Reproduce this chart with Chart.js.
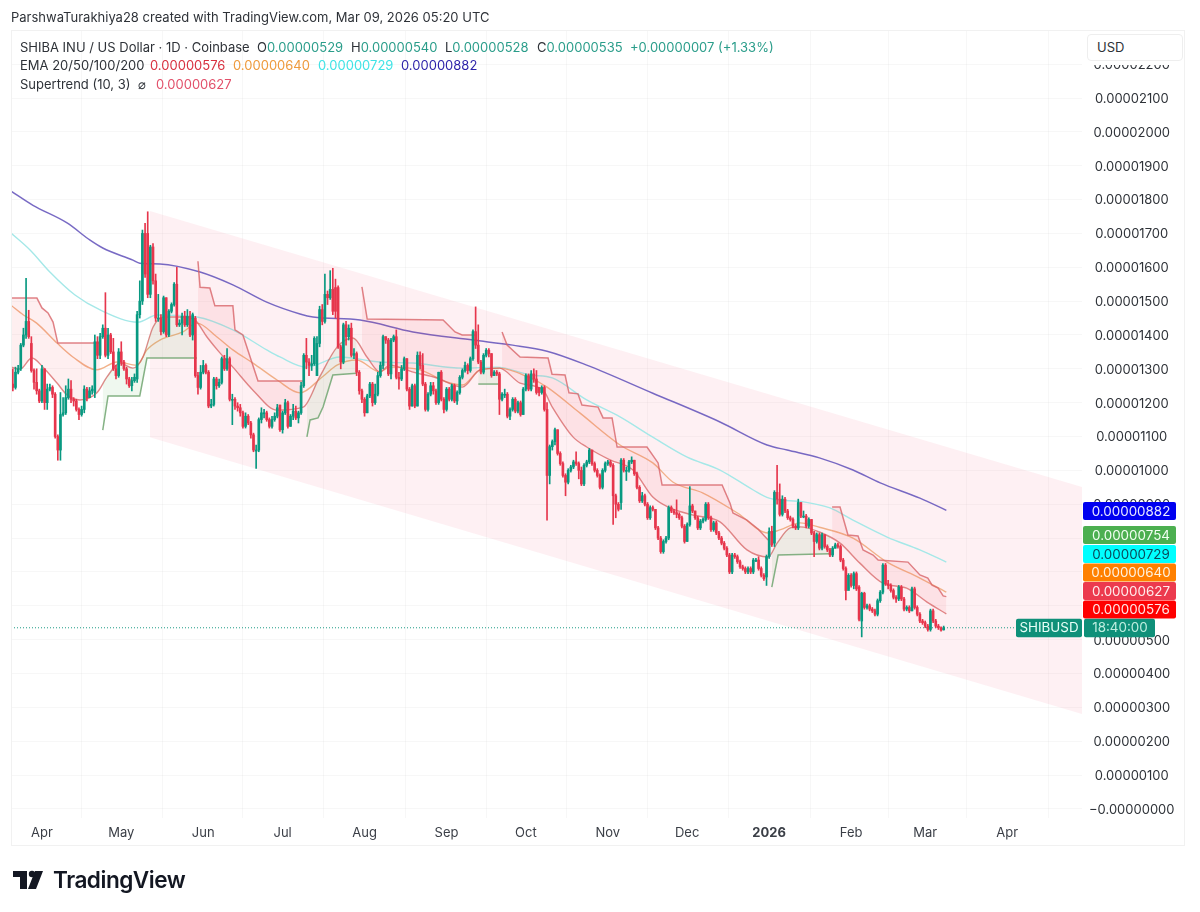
<!DOCTYPE html>
<html><head><meta charset="utf-8"><title>SHIBUSD</title>
<script src="https://cdn.jsdelivr.net/npm/chart.js@4"></script>
<style>
html,body{margin:0;padding:0;background:#fff;width:1200px;height:912px;overflow:hidden}
#c{position:absolute;left:0;top:0;filter:blur(0.4px)}
.t{position:absolute;font:13px Inter,sans-serif;color:#2e3238;white-space:nowrap;line-height:16px}
.u{color:#2a9d8a}
#pane{position:absolute;left:11px;top:30px;width:1174px;height:816px;border:1px solid #f1f1f1;box-sizing:border-box}
#cover{position:absolute;left:1087px;top:58px;width:96px;height:7px;background:#fff}
#usd{position:absolute;left:1087px;top:34px;width:96px;height:27px;background:#fff;border:1px solid #eee;border-radius:4px;box-sizing:border-box;font:13px Inter,sans-serif;color:#2e3238;padding:4px 9px}
#logoT{position:absolute;left:53px;top:866px;font:600 22.6px Inter,sans-serif;color:#131722;letter-spacing:-.5px}
</style></head><body>
<canvas id="c" width="1200" height="912"></canvas>
<div id="pane"></div>
<div id="cover"></div>
<div class="t" style="left:11px;top:9px">ParshwaTurakhiya28 created with TradingView.com, Mar 09, 2026 05:20 UTC</div>
<div class="t" style="left:20px;top:39px">SHIBA INU / US Dollar · 1D · Coinbase</div>
<div class="t" style="left:257px;top:39px">O<span class="u">0.00000529</span></div>
<div class="t" style="left:351px;top:39px">H<span class="u">0.00000540</span></div>
<div class="t" style="left:445px;top:39px">L<span class="u">0.00000528</span></div>
<div class="t" style="left:537px;top:39px">C<span class="u">0.00000535</span></div>
<div class="t u" style="left:630px;top:39px">+0.00000007 (+1.33%)</div>
<div class="t" style="left:20px;top:57px">EMA 20/50/100/200</div>
<div class="t" style="left:150px;top:57px;color:#d8303f">0.00000576</div>
<div class="t" style="left:233px;top:57px;color:#ee9a3c">0.00000640</div>
<div class="t" style="left:318px;top:57px;color:#3fe3e6">0.00000729</div>
<div class="t" style="left:401px;top:57px;color:#2a1fa8">0.00000882</div>
<div class="t" style="left:20px;top:76px">Supertrend (10, 3)&nbsp;&nbsp;⌀</div>
<div class="t" style="left:156px;top:76px;color:#e2506a">0.00000627</div>
<div id="usd">USD</div>
<svg style="position:absolute;left:12px;top:868px" width="36" height="24" viewBox="0 0 36 24"><path fill="#131722" d="M15 3H1v6h7v12h7V3Zm16 0h-8l-7 18h8l7-18Z"/><circle cx="20" cy="6" r="3.2" fill="#131722"/></svg>
<div id="logoT">TradingView</div>
<script>
// All prices are in units of 0.00000001 USD. Candles are daily; day 0 = 2025-04-01.
const firstDay = -12;
const closes = [
1255,1245,1290,1300,1370,1400,1440,1395,1295,1260,
1235,1205,1300,1200,1240,1245,1225,1100,1060,1165,
1170,1215,1240,1210,1205,1180,1165,1180,1240,1215,
1235,1240,1380,1340,1395,1420,1340,1400,1350,1300,
1280,1350,1320,1300,1270,1250,1265,1275,1460,1500,
1700,1580,1520,1660,1560,1450,1450,1410,1510,1400,
1470,1490,1550,1430,1435,1455,1430,1455,1400,1460,
1280,1245,1290,1310,1290,1190,1195,1270,1250,1260,
1330,1300,1330,1210,1210,1190,1185,1170,1130,1160,
1140,1105,1060,1060,1150,1170,1170,1150,1130,1150,
1160,1185,1120,1170,1200,1130,1160,1175,1155,1170,
1250,1340,1320,1310,1315,1390,1375,1475,1440,1520,
1510,1535,1470,1470,1365,1320,1430,1395,1420,1340,
1345,1290,1235,1210,1170,1220,1255,1200,1225,1280,
1310,1395,1385,1285,1385,1395,1275,1270,1300,1330,
1240,1190,1250,1190,1340,1310,1255,1180,1225,1250,
1235,1200,1290,1210,1180,1240,1210,1250,1205,1230,
1275,1295,1310,1295,1330,1410,1370,1320,1290,1340,
1355,1345,1280,1290,1285,1210,1225,1225,1160,1180,
1210,1175,1200,1165,1240,1280,1240,1285,1270,1230,
1230,1245,1180,985,1070,1085,1120,1050,1020,985,
965,1000,1010,1025,1020,1000,960,1015,1025,1060,
1020,1000,985,950,1000,1020,1025,1015,925,900,
885,1030,1000,1000,1025,1030,990,950,910,925,
900,860,890,885,830,800,760,790,800,890,
880,875,870,860,835,790,840,895,880,860,
830,850,855,900,860,825,845,815,800,785,
770,750,700,750,745,730,715,710,700,710,
700,735,735,710,690,680,745,820,780,935,
915,870,915,880,860,855,835,830,905,865,
865,835,855,815,790,810,770,810,775,765,
750,770,780,775,735,710,645,690,660,695,
650,560,637,595,600,590,585,575,615,640,
720,665,660,645,625,620,655,620,590,595,
585,650,595,575,555,550,540,530,585,555,
540,535,528,535];
const opens = [
1300,1255,1245,1290,1300,1370,1400,1440,1375,1295,
1260,1235,1205,1300,1200,1240,1245,1225,1100,1060,
1165,1170,1215,1240,1210,1205,1180,1165,1180,1240,
1215,1235,1230,1380,1340,1395,1420,1340,1400,1350,
1300,1280,1350,1320,1300,1270,1250,1265,1270,1460,
1500,1700,1700,1520,1660,1560,1450,1450,1410,1510,
1400,1470,1490,1550,1430,1435,1455,1430,1455,1400,
1450,1280,1245,1290,1310,1290,1190,1195,1270,1250,
1260,1330,1300,1330,1210,1210,1190,1185,1170,1130,
1160,1140,1105,1060,1060,1150,1170,1170,1150,1130,
1150,1160,1193,1120,1170,1200,1130,1160,1175,1155,
1170,1250,1340,1320,1310,1315,1280,1375,1475,1440,
1520,1510,1535,1540,1540,1365,1320,1430,1395,1420,
1340,1345,1290,1235,1210,1170,1220,1255,1200,1225,
1280,1310,1395,1385,1285,1385,1395,1275,1270,1300,
1330,1240,1190,1250,1190,1340,1310,1255,1180,1225,
1250,1235,1200,1290,1210,1180,1240,1210,1250,1205,
1230,1275,1295,1310,1295,1330,1410,1370,1320,1290,
1340,1355,1345,1280,1290,1285,1210,1225,1225,1160,
1180,1210,1175,1200,1165,1240,1280,1240,1285,1270,
1245,1230,1245,1180,985,1070,1085,1120,1050,1020,
985,965,1000,1010,1025,1020,1000,960,1015,1025,
1060,1020,1000,985,950,1000,1020,1025,1015,925,
900,905,1030,1000,1000,1025,1030,990,950,910,
925,900,860,890,885,830,800,760,790,800,
890,880,875,870,860,835,790,840,895,880,
860,830,850,855,900,860,825,845,815,800,
785,770,750,700,750,745,730,715,710,700,
710,700,735,735,710,690,685,745,820,785,
935,915,870,915,880,860,855,835,830,905,
865,865,835,855,815,790,810,770,810,775,
765,750,770,780,775,735,710,645,690,660,
695,655,555,637,595,600,590,585,575,615,
640,720,665,660,645,625,620,655,620,590,
595,585,650,595,575,555,550,540,530,585,
555,540,535,529];
const highs = [
1310,1300,1305,1310,1375,1420,1567,1473,1395,1300,
1300,1240,1310,1300,1255,1255,1250,1230,1105,1230,
1215,1250,1270,1265,1215,1210,1185,1190,1250,1245,
1245,1250,1400,1395,1405,1430,1525,1420,1405,1390,
1310,1360,1380,1325,1305,1275,1275,1285,1470,1560,
1710,1730,1764,1665,1670,1580,1520,1460,1515,1510,
1475,1495,1555,1600,1445,1465,1470,1475,1470,1465,
1455,1290,1310,1325,1315,1295,1210,1275,1275,1270,
1335,1340,1360,1335,1225,1215,1200,1195,1175,1170,
1165,1145,1110,1075,1155,1185,1180,1175,1155,1160,
1170,1195,1193,1175,1210,1205,1165,1195,1190,1175,
1260,1345,1390,1330,1340,1395,1395,1485,1490,1580,
1530,1590,1597,1565,1545,1370,1435,1440,1430,1435,
1360,1350,1295,1240,1215,1225,1260,1260,1255,1290,
1320,1400,1395,1390,1390,1400,1415,1290,1310,1335,
1330,1245,1255,1255,1350,1350,1345,1260,1230,1260,
1260,1240,1290,1295,1215,1245,1245,1255,1255,1235,
1280,1300,1320,1315,1335,1415,1483,1430,1325,1345,
1360,1360,1345,1295,1295,1290,1230,1240,1230,1185,
1215,1215,1205,1205,1245,1285,1285,1295,1300,1295,
1240,1250,1250,1200,1075,1090,1125,1120,1055,1025,
990,1005,1015,1030,1055,1025,1010,1020,1030,1065,
1060,1025,1005,990,1005,1025,1030,1030,1020,930,
905,1035,1035,1010,1030,1040,1030,995,955,935,
930,905,895,895,880,835,805,795,805,895,
895,885,913,875,865,840,845,952,900,880,
865,855,860,905,905,865,850,850,820,805,
790,775,755,755,755,750,735,720,715,715,
715,740,740,745,715,695,750,830,835,940,
1015,960,925,920,885,865,860,840,915,905,
880,870,860,855,820,815,815,815,810,780,
770,775,785,785,780,740,715,695,695,700,
700,660,640,640,605,605,595,590,620,645,
725,725,675,665,650,630,660,660,625,600,
600,655,655,600,580,560,555,545,590,590,
560,545,538,540];
const lows = [
1245,1235,1240,1285,1295,1365,1390,1390,1290,1240,
1225,1200,1200,1180,1180,1235,1215,1095,1030,1030,
1160,1165,1210,1200,1190,1175,1150,1160,1170,1205,
1215,1225,1215,1330,1330,1390,1335,1330,1345,1295,
1270,1275,1310,1295,1255,1245,1235,1260,1260,1450,
1490,1570,1510,1510,1550,1440,1440,1400,1405,1395,
1395,1465,1485,1425,1425,1400,1425,1425,1395,1385,
1275,1225,1240,1285,1285,1185,1185,1190,1240,1245,
1255,1295,1295,1205,1135,1180,1175,1160,1125,1125,
1135,1095,1055,1006,1055,1140,1155,1145,1125,1125,
1145,1155,1115,1110,1165,1125,1130,1150,1150,1140,
1165,1245,1300,1280,1295,1310,1280,1365,1430,1435,
1490,1505,1460,1450,1360,1300,1315,1370,1385,1335,
1330,1280,1225,1200,1160,1170,1215,1190,1195,1220,
1275,1300,1375,1280,1270,1380,1270,1240,1265,1295,
1235,1180,1190,1185,1190,1300,1250,1175,1175,1220,
1225,1195,1195,1205,1170,1175,1205,1205,1200,1195,
1225,1270,1290,1285,1290,1325,1360,1315,1285,1285,
1335,1335,1275,1280,1280,1165,1205,1215,1155,1150,
1175,1170,1170,1160,1165,1235,1235,1235,1260,1225,
1220,1225,1175,853,960,1060,1075,1045,1015,980,
925,960,995,1005,1015,975,955,955,1010,1020,
1015,995,980,945,945,995,1015,1010,840,860,
880,885,995,970,995,1020,985,945,905,905,
895,855,855,880,825,795,755,755,785,795,
875,870,860,855,830,785,790,835,875,855,
825,825,845,850,855,820,820,810,795,780,
765,745,695,695,740,725,710,705,695,695,
695,695,730,705,685,675,660,740,775,775,
900,865,865,875,855,850,830,825,825,860,
860,830,830,810,745,785,765,765,770,760,
745,745,770,770,730,705,617,650,655,650,
645,555,508,590,590,585,580,570,570,610,
635,660,650,640,620,610,615,615,585,585,
580,585,590,570,550,545,535,525,525,550,
535,530,525,528];

const ema20 = [[-11.7,1305],[-8.3,1299],[-3.8,1332],[0.4,1305],[5.7,1258],[9.5,1223],[14.4,1208],[20.8,1229],[24.6,1276],[29.5,1317],[34.4,1302],[38.2,1335],[42,1423],[45.8,1453],[53.3,1453],[57.9,1444],[62.4,1394],[67.3,1347],[72.2,1305],[79.8,1237],[88.9,1178],[98.8,1187],[105,1276],[111.6,1364],[117.6,1391],[122.9,1335],[127.8,1291],[131.6,1311],[140,1291],[149.4,1273],[159,1246],[165.7,1297],[173,1302],[180.8,1258],[189.5,1237],[193,1187],[200.8,1099],[206,1069],[214.8,1031],[223.5,1001],[231,921],[237.5,889],[246.2,868],[256.4,848],[266.6,765],[274.6,744],[278,785],[283,830],[286.7,833],[294,818],[301.8,785],[309.3,726],[318,667],[327,652],[334.7,611],[342,576]];
const ema50 = [[-11.7,1488],[-7,1459],[-2,1435],[5.7,1376],[11.7,1335],[20.8,1297],[28.4,1320],[36,1311],[39.7,1356],[44.6,1385],[53.3,1409],[58.6,1435],[66.2,1394],[72.2,1356],[79.8,1317],[88.9,1267],[97.6,1229],[106,1276],[111.6,1311],[119,1326],[127.8,1291],[131.6,1305],[143,1297],[153,1261],[159,1252],[165.7,1297],[173,1302],[184.6,1273],[191,1246],[203.5,1169],[218.6,1075],[231,1022],[238.7,965],[250,933],[263,874],[274.6,815],[279,824],[286.7,845],[294,832],[306.7,800],[319.6,729],[332,682],[342,640]];
const ema100 = [[-11.7,1701],[-4.5,1651],[3,1586],[12.5,1518],[22,1474],[36.3,1438],[43.5,1459],[58.6,1453],[72.2,1415],[85,1356],[90,1335],[100,1305],[112.7,1335],[127.8,1320],[140,1317],[159,1302],[172,1305],[184.6,1282],[193,1273],[206,1208],[218.6,1158],[231,1098],[244,1039],[256.4,1001],[269,942],[275,918],[288,907],[298,889],[306.7,853],[319.6,803],[332,765],[342,729]];
const ema200 = [[-11.7,1825],[-3.4,1783],[9.5,1731],[18.2,1680],[23,1657],[34.4,1621],[37,1612],[44.6,1610],[59.8,1586],[72.2,1548],[85,1497],[97.6,1462],[102.5,1453],[120.3,1444],[140.3,1409],[163,1385],[178,1370],[191,1352],[206,1311],[231,1228],[256.4,1143],[274.2,1075],[281.8,1060],[294,1037],[306.7,1001],[317,963],[332,918],[342,882]];

const stDown1 = [[-11.7,1509],[-1.9,1509],[0,1480],[2.3,1465],[4.2,1438],[6,1376],[21.9,1376]];
const stUp1 = [[23,1119],[25,1220],[37,1220],[39.7,1332],[58.6,1332]];
const stDown2 = [[59,1618],[59.8,1541],[63.5,1539],[65.4,1486],[72.2,1486],[73,1415],[76,1400],[81.7,1264],[98.7,1264]];
const stUp2 = [[100.2,1099],[101.4,1149],[104.4,1155],[106.3,1187],[110,1282],[119,1287]];
const stDown3 = [[121,1542],[123,1447],[151.7,1444],[156.2,1409],[158.9,1400],[164.5,1400]];
const stUp3 = [[165,1255],[172.8,1255]];
const stDown4 = [[174,1409],[175.9,1370],[180.8,1335],[191.4,1332],[192.9,1284],[197.8,1282],[199.3,1229],[202.7,1226],[204.2,1193],[210.3,1187],[212.2,1155],[215.6,1155],[217.5,1069],[228.8,1069],[233,1022],[234.5,957],[257.2,957],[260.2,903],[261.3,874],[266.6,853],[270.8,827],[274.6,794]];
const stUp4 = [[276,655],[278.4,750],[298,754]];
const stDown5 = [[298.8,892],[301.8,892],[304.8,809],[308.6,806],[310.5,765],[314.3,750],[316.2,735],[327.5,729],[332,691],[335,682],[336.6,661],[338.9,652],[340.8,629],[342,627]];
const stSegmentsDown = [stDown1,stDown2,stDown3,stDown4,stDown5];
const stSegmentsUp = [stUp1,stUp2,stUp3,stUp4];

const channelUpper = [[40.8,1766],[393.3,951]];
const channelLower = [[40.8,1098],[393.3,280]];
const lastPrice = 535;
const xMin = -11.7, xMax = 393.3, yMin = -27, yMax = 2301;
const monthTicks = [0,30,61,91,122,153,183,214,244,275,306,334,365];
const monthLabels = ['Apr','May','Jun','Jul','Aug','Sep','Oct','Nov','Dec','2026','Feb','Mar','Apr'];
const priceTicks = [];
for (let v = 0; v <= 2200; v += 100) priceTicks.push(v);
const fmt = v => v === 0 ? '\u22120.00000000' : (v / 1e8).toFixed(8);

const up = '#089981', down = '#e6364c';
const bodyColors = closes.map((c, i) => c >= opens[i] ? up : down);
const days = closes.map((c, i) => firstDay + i);

const datasets = [];
const lineBase = {type:'line', pointRadius:0, pointHoverRadius:0, fill:false};
datasets.push({...lineBase, label:'channel top', data:channelUpper, borderWidth:0, borderColor:'transparent', fill:'+1', backgroundColor:'rgba(240,60,100,0.08)', order:50});
datasets.push({...lineBase, label:'channel bottom', data:channelLower, borderWidth:0, borderColor:'transparent', order:50});
const ema20Index = datasets.length;
datasets.push({...lineBase, label:'EMA 20', data:ema20, borderColor:'rgba(214,100,100,0.75)', borderWidth:1.4, cubicInterpolationMode:'monotone', order:6});
datasets.push({...lineBase, label:'EMA 50', data:ema50, borderColor:'rgba(240,170,125,0.9)', borderWidth:1.4, cubicInterpolationMode:'monotone', order:6});
datasets.push({...lineBase, label:'EMA 100', data:ema100, borderColor:'rgba(165,232,232,1)', borderWidth:1.4, cubicInterpolationMode:'monotone', order:6});
datasets.push({...lineBase, label:'EMA 200', data:ema200, borderColor:'rgba(105,90,190,0.9)', borderWidth:1.5, cubicInterpolationMode:'monotone', order:6});
stSegmentsDown.forEach((s, k) => datasets.push({...lineBase, label:'Supertrend down '+k, data:s, borderColor:'rgba(216,100,105,0.8)', borderWidth:1.5, fill:{target:ema20Index, above:'rgba(242,54,69,0.08)', below:'rgba(242,54,69,0.08)'}, order:5}));
stSegmentsUp.forEach((s, k) => datasets.push({...lineBase, label:'Supertrend up '+k, data:s, borderColor:'rgba(120,170,120,0.9)', borderWidth:1.5, fill:{target:ema20Index, above:'rgba(76,175,80,0.09)', below:'rgba(76,175,80,0.09)'}, order:5}));
datasets.push({...lineBase, label:'last', data:[[xMin,lastPrice],[xMax,lastPrice]], borderColor:'#1f9c86', borderWidth:1, borderDash:[1,2], order:4});
datasets.push({type:'bar', label:'wick', data:days.map((d,i)=>({x:d,y:[lows[i],highs[i]]})), backgroundColor:bodyColors, borderWidth:0, barThickness:1, grouped:false, order:2});
datasets.push({type:'bar', label:'body', data:days.map((d,i)=>({x:d,y:[opens[i],closes[i]]})), backgroundColor:bodyColors, borderWidth:0, barThickness:2, minBarLength:1, grouped:false, order:1});

const tags = [
 {text:'0.00000882', bg:'#0000f0', fg:'#e8e8ff', cy:511},
 {text:'0.00000754', bg:'#4caf50', fg:'#f2fff2', cy:535},
 {text:'0.00000729', bg:'#00ffff', fg:'#0a4a5a', cy:554},
 {text:'0.00000640', bg:'#ff8000', fg:'#fff2e0', cy:572.5},
 {text:'0.00000627', bg:'#ec3a4e', fg:'#ffecec', cy:591},
 {text:'0.00000576', bg:'#ff0000', fg:'#ffe8e8', cy:609.5}
];
const tagPlugin = {id:'tags', afterDraw(chart){
  const c = chart.ctx; c.save();
  c.textBaseline='middle'; c.textAlign='center'; c.font='13.4px Inter, sans-serif';
  const box=(x,y,w,h,col)=>{c.fillStyle=col;c.beginPath();c.roundRect(x,y,w,h,2);c.fill();};
  tags.forEach(t=>{box(1083,t.cy-9,93,18,t.bg);c.fillStyle=t.fg;c.fillText(t.text,1131,t.cy+.5);});
  const yy = chart.scales.y.getPixelForValue(lastPrice);
  box(1016,yy-9,66,18.5,'#0f9079');c.fillStyle='#e8fff8';c.fillText('SHIBUSD',1049,yy+.5);
  box(1084,yy-9,71,18.5,'#0f9079');c.fillStyle='#bfeee0';c.fillText('18:40:00',1120,yy+.5);
  c.restore();
}};

new Chart(document.getElementById('c'), {
  type:'bar',
  data:{datasets},
  plugins:[tagPlugin],
  options:{
    responsive:false, animation:false, events:[],
    layout:{padding:{left:11,top:30,right:15,bottom:64}},
    plugins:{legend:{display:false},tooltip:{enabled:false}},
    scales:{
      x:{type:'linear',offset:false,min:xMin,max:xMax,
        grid:{color:'rgba(0,0,0,0.03)',drawTicks:false},border:{display:false},
        afterBuildTicks(s){s.ticks=monthTicks.map(v=>({value:v}));},
        afterFit(s){s.height=30;},
        ticks:{autoSkip:false,maxRotation:0,padding:7,color:'#3a3e46',
          font:ctx=>ctx.tick&&ctx.tick.value===275?{family:'Inter',size:13,weight:'700'}:{family:'Inter',size:13},
          callback:v=>monthLabels[monthTicks.indexOf(v)]}},
      y:{type:'linear',position:'right',min:yMin,max:yMax,
        grid:{color:'rgba(0,0,0,0.03)',drawTicks:false},border:{display:false},
        afterBuildTicks(s){s.ticks=priceTicks.map(v=>({value:v}));},
        afterFit(s){s.width=103;},
        ticks:{autoSkip:false,crossAlign:'center',padding:7,labelOffset:1,color:'#2e3238',font:{family:'Inter',size:13},callback:v=>fmt(v)}}
    }
  }
});
</script>
</body></html>
